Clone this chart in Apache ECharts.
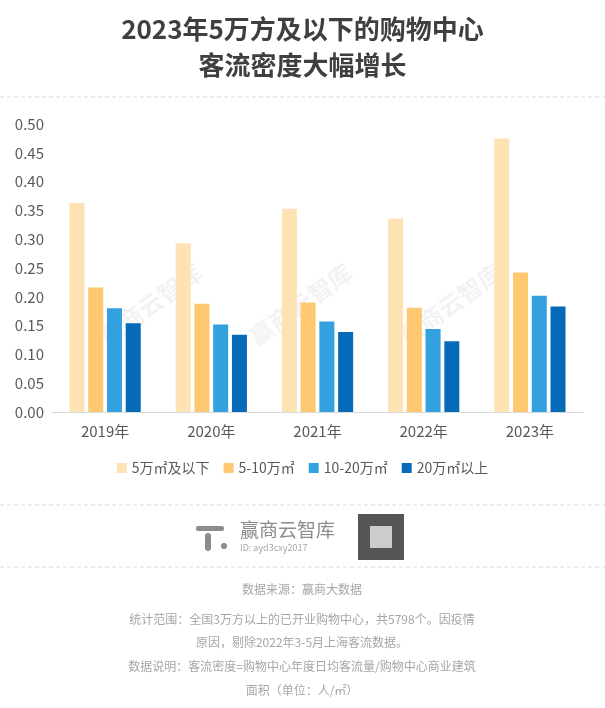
<!DOCTYPE html>
<html>
<head>
<meta charset="utf-8">
<script src="https://cdn.jsdelivr.net/npm/echarts@6/dist/echarts.min.js"></script>
<style>html,body{margin:0;padding:0;background:#fff}#main{width:605px;height:708px}</style>
</head>
<body>
<div id="main"></div>
<script>
var years = ['2019年', '2020年', '2021年', '2022年', '2023年'];
var seriesNames = ['5万㎡及以下', '5-10万㎡', '10-20万㎡', '20万㎡以上'];
var small = [0.363, 0.293, 0.353, 0.336, 0.475];
var mid = [0.216, 0.188, 0.190, 0.181, 0.242];
var large = [0.180, 0.152, 0.157, 0.144, 0.202];
var huge = [0.154, 0.134, 0.139, 0.123, 0.183];
var yTicks = [0, 0.05, 0.1, 0.15, 0.2, 0.25, 0.3, 0.35, 0.4, 0.45, 0.5];

var chart = echarts.init(document.getElementById('main'));
var font = '"Microsoft YaHei","Noto Sans CJK SC",sans-serif';
var grayText = { fill: '#a6a6a6', font: '12px ' + font, textAlign: 'center' };
function dash(y) {
	return { type: 'line', shape: { x1: 0, y1: y, x2: 605, y2: y }, style: { stroke: '#d9d9d9', lineDash: [4, 3], lineWidth: 1 } };
}
function mark(x, y) {
	return { type: 'text', x: x, y: y, rotation: Math.PI / 5, style: { text: '赢商云智库', fill: 'rgba(0,0,0,0.05)', font: 'bold 24px ' + font } };
}
chart.setOption({
	color: ['#FDE2B4', '#FDC870', '#33A0E0', '#056BB8'],
	animation: false,
	textStyle: { fontFamily: font },
	title: {
		text: '2023年5万方及以下的购物中心\n客流密度大幅增长',
		left: 'center', top: 6,
		textStyle: { fontSize: 26, fontWeight: 'bold', color: '#3f3f3f', lineHeight: 36 }
	},
	legend: {
		data: seriesNames, bottom: 228, left: 'center', itemWidth: 10, itemHeight: 10, itemGap: 14,
		icon: 'rect', textStyle: { fontSize: 14, color: '#595959' }
	},
	grid: { left: 52, right: 22, top: 124, bottom: 296 },
	xAxis: {
		type: 'category', data: years,
		axisTick: { show: false },
		axisLine: { lineStyle: { color: '#d9d9d9', width: 1 } },
		axisLabel: { fontSize: 15, color: '#595959', margin: 12 }
	},
	yAxis: {
		type: 'value', min: 0, max: 0.5, interval: 0.05,
		splitLine: { show: false },
		axisLabel: { fontSize: 15, color: '#595959', formatter: function (v) { return v.toFixed(2); }, margin: 8 }
	},
	series: [small, mid, large, huge].map(function (d, i) {
		return { name: seriesNames[i], type: 'bar', data: d, barWidth: 15, barGap: '25%', z: 1 };
	}),
	graphic: [
		dash(97), dash(505), dash(567),
		mark(95, 330), mark(245, 330), mark(395, 330),
		{ type: 'text', x: 195, y: 532, style: { text: 'ⅰ', fill: '#fff', font: '1px sans-serif' } },
		{ type: 'rect', shape: { x: 196, y: 526, width: 28, height: 5, r: 2 }, style: { fill: '#8c8c8c' } },
		{ type: 'rect', shape: { x: 205, y: 533, width: 6, height: 18, r: 3 }, style: { fill: '#8c8c8c' } },
		{ type: 'circle', shape: { cx: 224, cy: 546, r: 3 }, style: { fill: '#8c8c8c' } },
		{ type: 'text', x: 240, y: 520, style: { text: '赢商云智库', fill: '#8c8c8c', font: '19px ' + font } },
		{ type: 'text', x: 240, y: 543, style: { text: 'ID: ayd3cxy2017', fill: '#a6a6a6', font: '9px ' + font } },
		{ type: 'rect', shape: { x: 358, y: 514, width: 46, height: 46 }, style: { fill: '#555' } },
		{ type: 'rect', shape: { x: 370, y: 526, width: 22, height: 22 }, style: { fill: '#ccc' } },
		{ type: 'text', x: 302, y: 583, style: Object.assign({ text: '数据来源：赢商大数据' }, grayText) },
		{ type: 'text', x: 302, y: 613, style: Object.assign({ text: '统计范围：全国3万方以上的已开业购物中心，共5798个。因疫情' }, grayText) },
		{ type: 'text', x: 302, y: 636, style: Object.assign({ text: '原因，剔除2022年3-5月上海客流数据。' }, grayText) },
		{ type: 'text', x: 302, y: 660, style: Object.assign({ text: '数据说明：客流密度=购物中心年度日均客流量/购物中心商业建筑' }, grayText) },
		{ type: 'text', x: 302, y: 684, style: Object.assign({ text: '面积（单位：人/㎡）' }, grayText) }
	]
});
</script>
</body>
</html>
